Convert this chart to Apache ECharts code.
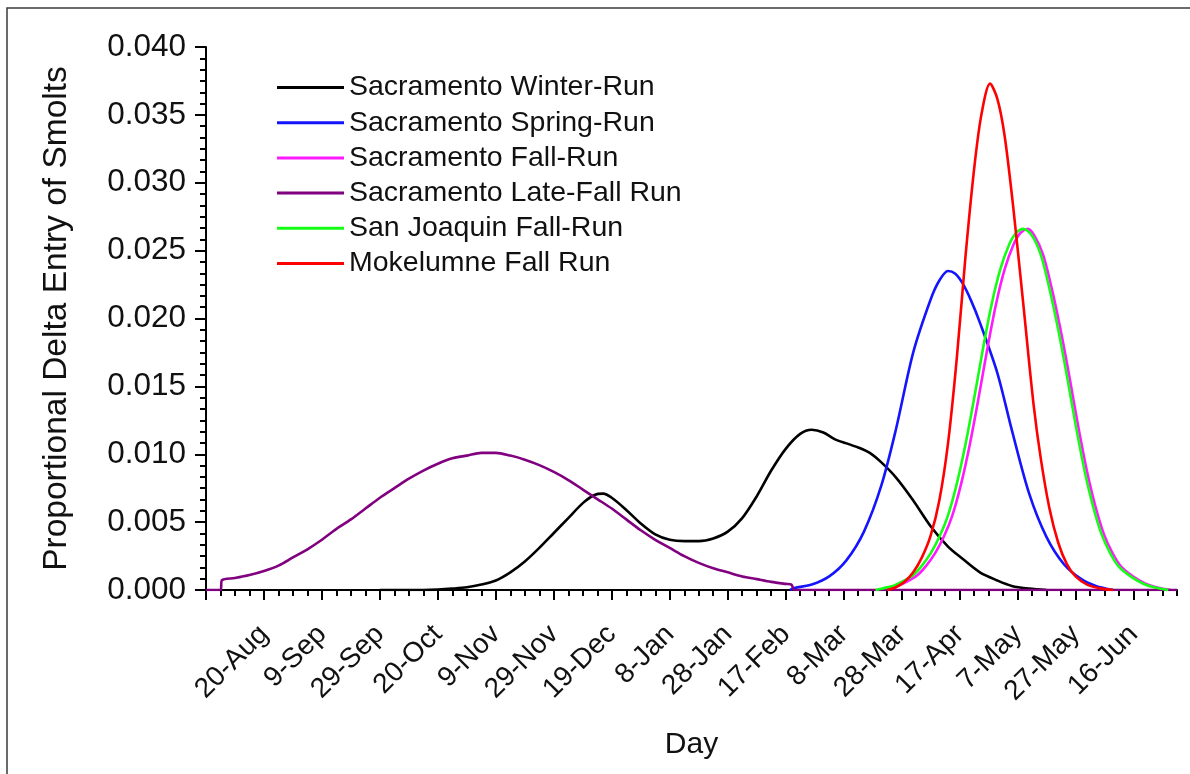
<!DOCTYPE html>
<html>
<head>
<meta charset="utf-8">
<script src="https://cdn.jsdelivr.net/npm/echarts@6/dist/echarts.min.js"></script>
<style>
  html, body { margin: 0; padding: 0; background: #fff; }
  #chart { width: 1190px; height: 774px; }
</style>
</head>
<body>
<div id="chart"></div>
<script>
// x = days after 20-Aug; y = proportional delta entry
const tickLabels = ['20-Aug','9-Sep','29-Sep','20-Oct','9-Nov','29-Nov','19-Dec','8-Jan','28-Jan','17-Feb','8-Mar','28-Mar','17-Apr','7-May','27-May','16-Jun'];
const seriesNames = ['Sacramento Winter-Run','Sacramento Spring-Run','Sacramento Fall-Run','Sacramento Late-Fall Run','San Joaquin Fall-Run','Mokelumne Fall Run'];

const winterDays = [40,55,60,65,70,75,80,85,90,95,100,105,110,114,117,120,125,130,135,140,145,150,155,160,165,170,175,180,185,189,193,197,201,205,209,213,218,224,230,236,241,247,253,258,264,270];
const winterVals = [0,0,0.00003,0.0001,0.0002,0.0004,0.0007,0.0013,0.0021,0.0031,0.0042,0.0053,0.0064,0.0070,0.0071,0.0068,0.0059,0.0049,0.0041,0.0037,0.0036,0.0036,0.0038,0.0043,0.0053,0.0069,0.0088,0.0104,0.0115,0.0118,0.0116,0.0111,0.0108,0.0105,0.0101,0.0094,0.0083,0.0066,0.0047,0.0032,0.0023,0.0013,0.0007,0.0003,0.0001,0];

const springDays = [181.5,183,189,195,201,207,213,218,224,230,233,236,238.5,241,244,247,253,258,264,270,276,282,287,293];
const springVals = [0,0.00015,0.0004,0.0010,0.0022,0.0043,0.0077,0.0118,0.0175,0.0214,0.0228,0.0235,0.0233,0.0226,0.0213,0.0197,0.0160,0.0118,0.0071,0.0039,0.0019,0.0008,0.0003,0];

const fallDays = [212.5,214.5,218.5,222.5,225.5,228.5,231.5,234.5,237.5,240.5,243.5,246.5,249.5,252.5,255.5,258.5,261,263.5,265.8,268.8,271.8,274.8,277.8,280.8,283.8,286.8,289.8,292.8,295.8,299.8,303.8,307.8,312.8];
const fallVals = [0,0.0001,0.0003,0.0007,0.0011,0.0018,0.0027,0.0039,0.0055,0.0078,0.0107,0.0141,0.0177,0.0210,0.0236,0.0254,0.0263,0.0266,0.0261,0.0247,0.0222,0.0192,0.0158,0.0122,0.0089,0.0062,0.0041,0.0027,0.0017,0.0010,0.0005,0.0002,0];

const lateFallDays = [-20,-15,-14.5,-10,-5,0,5,10,15,20,25,30,35,40,45,50,55,60,65,70,75,80,85,90,95,100,105,110,115,120,125,130,135,140,145,150,155,160,165,170,175,180,182,183,315];
const lateFallVals = [0,0,0.00072,0.00088,0.0011,0.0014,0.0018,0.0024,0.0030,0.0037,0.0045,0.0052,0.0060,0.0068,0.0075,0.0082,0.0088,0.0093,0.0097,0.0099,0.0101,0.0101,0.0099,0.0096,0.0092,0.0087,0.0081,0.0074,0.0067,0.0060,0.0052,0.0044,0.0037,0.0031,0.0025,0.0020,0.0016,0.0013,0.0010,0.0008,0.0006,0.00045,0.0004,0,0];

const sjDays = [211,213,217,221,224,227,230,233,236,239,242,245,248,251,254,257,259.5,262,265,268,271,274,277,280,283,286,289,292,295,299,303,307,312];
const sjVals = [0,0.0001,0.0003,0.0007,0.0011,0.0018,0.0027,0.0039,0.0055,0.0078,0.0107,0.0141,0.0177,0.0210,0.0236,0.0254,0.0263,0.0266,0.0261,0.0247,0.0222,0.0192,0.0158,0.0122,0.0089,0.0062,0.0041,0.0027,0.0017,0.0010,0.0005,0.0002,0];

const mokDays = [215,218,221,224,227,230,233,236,239,242,245,247.5,250.5,253,255.5,258.5,262,265.5,268,271,274,277,280,284,289,293];
const mokVals = [0,0.0002,0.0006,0.0013,0.0024,0.0040,0.0066,0.0108,0.0170,0.0245,0.0310,0.0350,0.0373,0.0362,0.0335,0.0282,0.0210,0.0137,0.0097,0.0060,0.0035,0.0019,0.0010,0.0004,0.0001,0];

const colors = ['#000000','#1414ff','#ff1aff','#800080','#14ff14','#ff0000'];
const allDays = [winterDays, springDays, fallDays, lateFallDays, sjDays, mokDays];
const allVals = [winterVals, springVals, fallVals, lateFallVals, sjVals, mokVals];

const majorTicks = [];
for (let d = -20; d <= 300; d += 20) majorTicks.push(d);

const FONT = '"Liberation Sans", Arial, sans-serif';
const chart = echarts.init(document.getElementById('chart'), null, { renderer: 'canvas' });

const series = seriesNames.map((name, i) => ({
  name: name,
  type: 'line',
  data: allDays[i].map((d, k) => [d, allVals[i][k]]),
  showSymbol: false,
  symbol: 'none',
  smooth: 0.3,
  lineStyle: { color: colors[i], width: 2.6 },
  itemStyle: { color: colors[i] },
  xAxisIndex: 0,
  yAxisIndex: 0,
  animation: false
}));

chart.setOption({
  backgroundColor: '#ffffff',
  animation: false,
  graphic: [{
    type: 'rect',
    shape: { x: 7, y: 8, width: 1400, height: 1000 },
    style: { fill: 'none', stroke: '#3a3a3a', lineWidth: 1.5 },
    silent: true
  }],
  grid: { left: 206, right: 13, top: 47, bottom: 184, containLabel: false },
  legend: {
    orient: 'vertical',
    left: 272,
    top: 68,
    icon: 'rect',
    itemWidth: 67,
    itemHeight: 3,
    itemGap: 6.2,
    data: seriesNames,
    textStyle: { fontFamily: FONT, fontSize: 28.5, color: '#111' }
  },
  xAxis: [{
    type: 'value',
    position: 'bottom',
    min: -20,
    max: 315,
    interval: 5,
    name: 'Day',
    nameLocation: 'middle',
    nameGap: 140,
    nameTextStyle: { fontFamily: FONT, fontSize: 30, color: '#111' },
    axisLine: { show: true, onZero: false, lineStyle: { color: '#000', width: 2 } },
    axisTick: { show: true, inside: false, length: 6, lineStyle: { color: '#000', width: 2 } },
    axisLabel: {
      show: true,
      rotate: 45,
      margin: 40,
      fontFamily: FONT,
      fontSize: 28,
      color: '#111',
      formatter: function (v) {
        if (v >= 0 && v <= 300 && Math.abs(v % 20) < 1e-6) return tickLabels[Math.round(v / 20)];
        return '';
      }
    },
    splitLine: { show: false }
  }, {
    type: 'value',
    position: 'bottom',
    min: -20,
    max: 315,
    interval: 20,
    axisLine: { show: false, onZero: false },
    axisTick: { show: true, inside: false, length: 10, customValues: majorTicks, lineStyle: { color: '#000', width: 2 } },
    axisLabel: { show: false },
    splitLine: { show: false }
  }],
  yAxis: {
    type: 'value',
    min: 0,
    max: 0.04,
    interval: 0.005,
    name: 'Proportional Delta Entry of Smolts',
    nameLocation: 'middle',
    nameGap: 132,
    nameTextStyle: { fontFamily: FONT, fontSize: 33.5, color: '#111' },
    axisLine: { show: true, onZero: false, lineStyle: { color: '#000', width: 2 } },
    axisTick: { show: true, inside: false, length: 11, lineStyle: { color: '#000', width: 2 } },
    minorTick: { show: true, splitNumber: 6, length: 6, lineStyle: { color: '#000', width: 2 } },
    axisLabel: {
      margin: 20,
      fontFamily: FONT,
      fontSize: 31.5,
      color: '#111',
      formatter: function (v) { return v.toFixed(3); }
    },
    splitLine: { show: false },
    minorSplitLine: { show: false }
  },
  series: series
});
</script>
</body>
</html>
